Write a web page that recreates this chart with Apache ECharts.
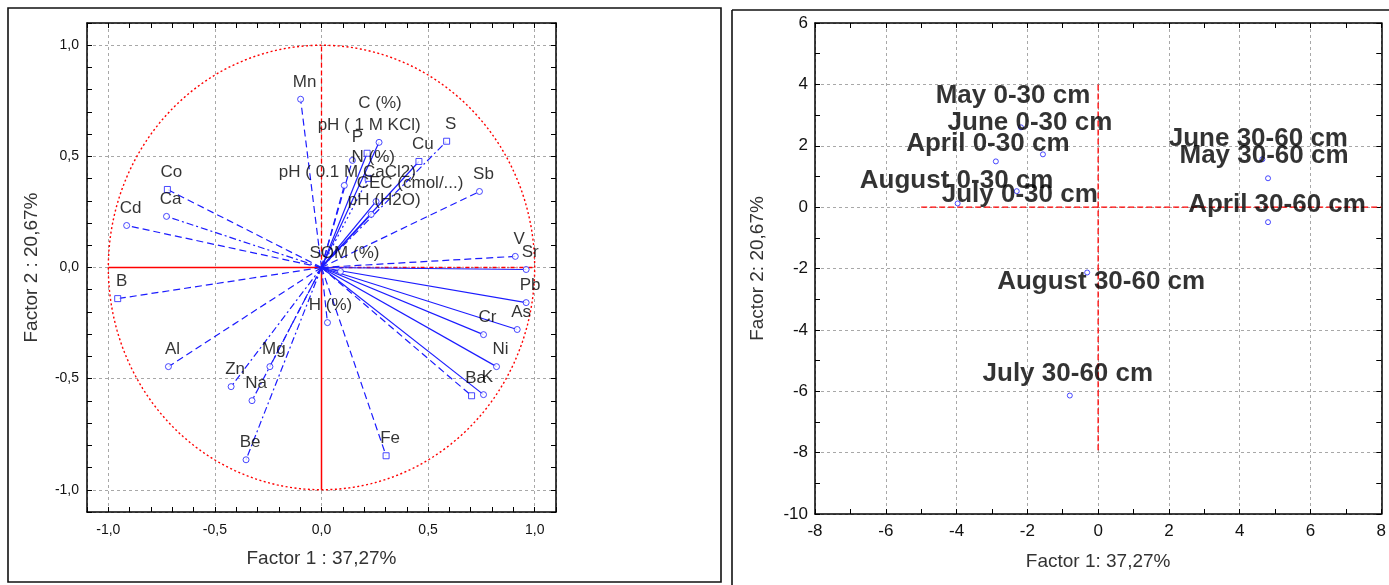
<!DOCTYPE html>
<html><head><meta charset="utf-8">
<script src="https://cdn.jsdelivr.net/npm/echarts@6/dist/echarts.min.js"></script>
<style>html,body{margin:0;padding:0;background:#fff;} #c{width:1389px;height:585px;}</style>
</head><body><div id="c"></div>
<script>
// ---- Loadings (left plot) ----
const variables = ['Mn','C (%)','pH ( 1 M KCl)','P','N (%)','pH ( 0.1 M CaCl2)','CEC (cmol/...)','pH (H2O)','SOM (%)','H (%)',
  'Co','Ca','Cd','B','Al','Zn','Mg','Na','Be','Fe','S','Cu','Sb','V','Sr','Pb','As','Cr','Ni','K','Ba'];
const factor1Loadings = [-0.098,0.270,0.214,0.145,0.219,0.107,0.256,0.233,0.089,0.028,
  -0.723,-0.727,-0.914,-0.956,-0.718,-0.424,-0.242,-0.326,-0.354,0.303,0.587,0.457,0.741,0.909,0.960,0.960,0.918,0.760,0.821,0.760,0.704];
const factor2Loadings = [0.757,0.563,0.514,0.482,0.401,0.369,0.297,0.239,-0.018,-0.248,
  0.351,0.230,0.189,-0.140,-0.446,-0.536,-0.446,-0.599,-0.865,-0.847,0.568,0.477,0.342,0.050,-0.009,-0.158,-0.279,-0.302,-0.446,-0.572,-0.577];
const loadingTicks = [-1.0,-0.5,0.0,0.5,1.0];

// ---- Scores (right plot) ----
const cases = ['April 0-30 cm','May 0-30 cm','June 0-30 cm','July 0-30 cm','August 0-30 cm',
  'April 30-60 cm','May 30-60 cm','June 30-60 cm','July 30-60 cm','August 30-60 cm'];
const factor1Scores = [-2.89,-2.18,-1.56,-2.30,-3.97,4.80,4.80,4.64,-0.80,-0.31];
const factor2Scores = [1.49,2.60,1.72,0.52,0.12,-0.49,0.94,1.56,-6.14,-2.13];

// ---- styles / layout (not data) ----
const BLUE = '#1c1cff', RED = '#ff0000';
const FONT = '"Liberation Sans", Arial, sans-serif';
const dashes = {solid:'solid', dash:[7,4], dashdot:[7,3,2,3], dot:[2,3]};
const vecStyle = {'Mn':'dash','C (%)':'solid','pH ( 1 M KCl)':'solid','P':'dash','N (%)':'dot','pH ( 0.1 M CaCl2)':'dash',
  'CEC (cmol/...)':'solid','pH (H2O)':'solid','SOM (%)':'dash','H (%)':'dash','Co':'dash','Ca':'dashdot','Cd':'dash','B':'dash',
  'Al':'dash','Zn':'dashdot','Mg':'dash','Na':'dashdot','Be':'dashdot','Fe':'dash','S':'dashdot','Cu':'solid','Sb':'dash',
  'V':'dash','Sr':'solid','Pb':'solid','As':'solid','Cr':'solid','Ni':'solid','K':'solid','Ba':'dash'};
const squareMarks = new Set(['Co','B','Fe','S','Cu','Ba','pH ( 1 M KCl)','N (%)']);
const loadLabelOff = {'C (%)':[1,-39],'pH ( 1 M KCl)':[2,-28],'P':[5,-23],'N (%)':[5,-21],'pH ( 0.1 M CaCl2)':[3,-13],
  'CEC (cmol/...)':[34,-18],'pH (H2O)':[13,-14],'SOM (%)':[4,-18],'H (%)':[3,-17]};
const scoreLabelOff = {'April 0-30 cm':[-8,-18],'May 0-30 cm':[-8,-32],'June 0-30 cm':[-13,-32],'July 0-30 cm':[3,4],
  'August 0-30 cm':[-1,-23],'April 30-60 cm':[9,-17],'May 30-60 cm':[-4,-22],'June 30-60 cm':[-4,-20],
  'July 30-60 cm':[-2,-22],'August 30-60 cm':[14,9]};

const comma1 = v => {
  if (!loadingTicks.some(t => Math.abs(t - v) < 1e-6)) return '';
  return v.toFixed(1).replace('.', ',');
};

function mkAxis(o) {
  const base = {
    type:'value', min:o.min, max:o.max, gridIndex:o.grid, position:o.pos,
    axisLine:{show:true, onZero:false, lineStyle:{color:'#000', width:1.5}},
    axisTick:{show:true, inside:true, length:5, lineStyle:{color:'#000', width:1}},
    minorTick:{show:true, splitNumber:o.minor, length:5, lineStyle:{color:'#000', width:1}},
    splitLine:{show:false}, minorSplitLine:{show:false},
    axisLabel:{show:false}
  };
  if (o.interval) base.interval = o.interval; else base.splitNumber = o.split;
  if (o.main) {
    base.splitLine = {show:true, lineStyle:{color:'#a8a8a8', width:1, type:[3,3]}};
    base.axisLabel = {show:true, color:'#111', fontSize:o.fs, fontFamily:FONT, margin:o.margin,
      formatter:o.fmt, showMinLabel:o.showEnds, showMaxLabel:o.showEnds};
    base.name = o.name; base.nameLocation = 'middle'; base.nameGap = o.gap;
    base.nameTextStyle = {color:'#333', fontSize:19, fontFamily:FONT};
  }
  return base;
}

const xAxes = [
  mkAxis({grid:0,pos:'bottom',min:-1.1,max:1.1,split:5,minor:5,main:true,fs:14,margin:11,fmt:comma1,showEnds:false,name:'Factor 1 : 37,27%',gap:37}),
  mkAxis({grid:0,pos:'top',min:-1.1,max:1.1,split:5,minor:5}),
  mkAxis({grid:1,pos:'bottom',min:-8,max:8,interval:2,minor:2,main:true,fs:17,margin:9,fmt:v=>String(v),showEnds:true,name:'Factor 1: 37,27%',gap:38}),
  mkAxis({grid:1,pos:'top',min:-8,max:8,interval:2,minor:2})
];
const yAxes = [
  mkAxis({grid:0,pos:'left',min:-1.1,max:1.1,split:5,minor:5,main:true,fs:14,margin:8,fmt:comma1,showEnds:false,name:'Factor 2 : 20,67%',gap:46}),
  mkAxis({grid:0,pos:'right',min:-1.1,max:1.1,split:5,minor:5}),
  mkAxis({grid:1,pos:'left',min:-10,max:6,interval:2,minor:2,main:true,fs:17,margin:7,fmt:v=>String(v),showEnds:true,name:'Factor 2: 20,67%',gap:48}),
  mkAxis({grid:1,pos:'right',min:-10,max:6,interval:2,minor:2})
];

const series = [];
function refLine(xi, yi, pts, type, width) {
  series.push({type:'line', xAxisIndex:xi, yAxisIndex:yi, data:pts, symbol:'none', silent:true, animation:false, z:2,
    lineStyle:{color:RED, width:width||1.3, type:type}});
}
// correlation circle (reference geometry)
series.push({type:'custom', xAxisIndex:0, yAxisIndex:0, data:[[0,0]], silent:true, animation:false, z:1,
  renderItem:(p, api) => {
    const pts = [];
    for (let k = 0; k <= 240; k++) { const t = k / 240 * 2 * Math.PI; pts.push(api.coord([Math.cos(t), Math.sin(t)])); }
    return {type:'polyline', shape:{points:pts}, style:{stroke:RED, lineWidth:1.4, lineDash:[2,2.5], fill:null}};
  }});
refLine(0,0,[[-1,0],[0,0]],'solid',1.5);
refLine(0,0,[[0,0],[1,0]],[4,2,1,2],1.3);
refLine(0,0,[[0,0],[0,1]],[5,3],1.3);
refLine(0,0,[[0,-1],[0,0]],'solid',1.5);
refLine(2,2,[[-5,0],[8,0]],[6,3],1.3);
refLine(2,2,[[0,4],[0,-8]],[6,3],1.3);

variables.forEach((n, i) => {
  series.push({type:'line', xAxisIndex:0, yAxisIndex:0, data:[[0,0],[factor1Loadings[i], factor2Loadings[i]]],
    symbol:'none', silent:true, animation:false, z:3,
    lineStyle:{color:BLUE, width:1.2, type:dashes[vecStyle[n]] || 'solid'}});
});
series.push({type:'scatter', xAxisIndex:0, yAxisIndex:0, animation:false, z:5, symbolSize:6,
  itemStyle:{color:'#fff', borderColor:BLUE, borderWidth:1},
  label:{show:true, position:'inside', formatter:'{b}', fontSize:17, fontFamily:FONT, color:'#000', textBorderWidth:0},
  data: variables.map((n, i) => ({name:n, value:[factor1Loadings[i], factor2Loadings[i]],
    symbol: squareMarks.has(n) ? 'rect' : 'circle', label:{offset: loadLabelOff[n] || [4,-17]}}))
});
series.push({type:'scatter', xAxisIndex:2, yAxisIndex:2, animation:false, z:5, symbolSize:5, symbol:'circle',
  itemStyle:{color:'#fff', borderColor:BLUE, borderWidth:1},
  label:{show:true, position:'inside', formatter:'{b}', fontSize:26, fontWeight:'bold', fontFamily:FONT, color:'#000', textBorderWidth:0},
  data: cases.map((n, i) => ({name:n, value:[factor1Scores[i], factor2Scores[i]], label:{offset: scoreLabelOff[n] || [0,-20]}}))
});

const chart = echarts.init(document.getElementById('c'), null, {renderer:'canvas'});
chart.setOption({
  animation:false,
  backgroundColor:'#fff',
  textStyle:{fontFamily:FONT},
  grid:[
    {left:87, top:23, width:469, height:489, containLabel:false},
    {left:815, top:23, width:572, height:491, containLabel:false}
  ],
  xAxis:xAxes, yAxis:yAxes, series:series,
  graphic:[
    {type:'rect', shape:{x:8, y:8, width:713, height:574}, style:{fill:null, stroke:'#111', lineWidth:1.6}, silent:true},
    {type:'line', shape:{x1:732, y1:10, x2:1389, y2:10}, style:{stroke:'#111', lineWidth:1.6}, silent:true},
    {type:'line', shape:{x1:732, y1:10, x2:732, y2:585}, style:{stroke:'#111', lineWidth:1.6}, silent:true}
  ]
});
</script></body></html>
